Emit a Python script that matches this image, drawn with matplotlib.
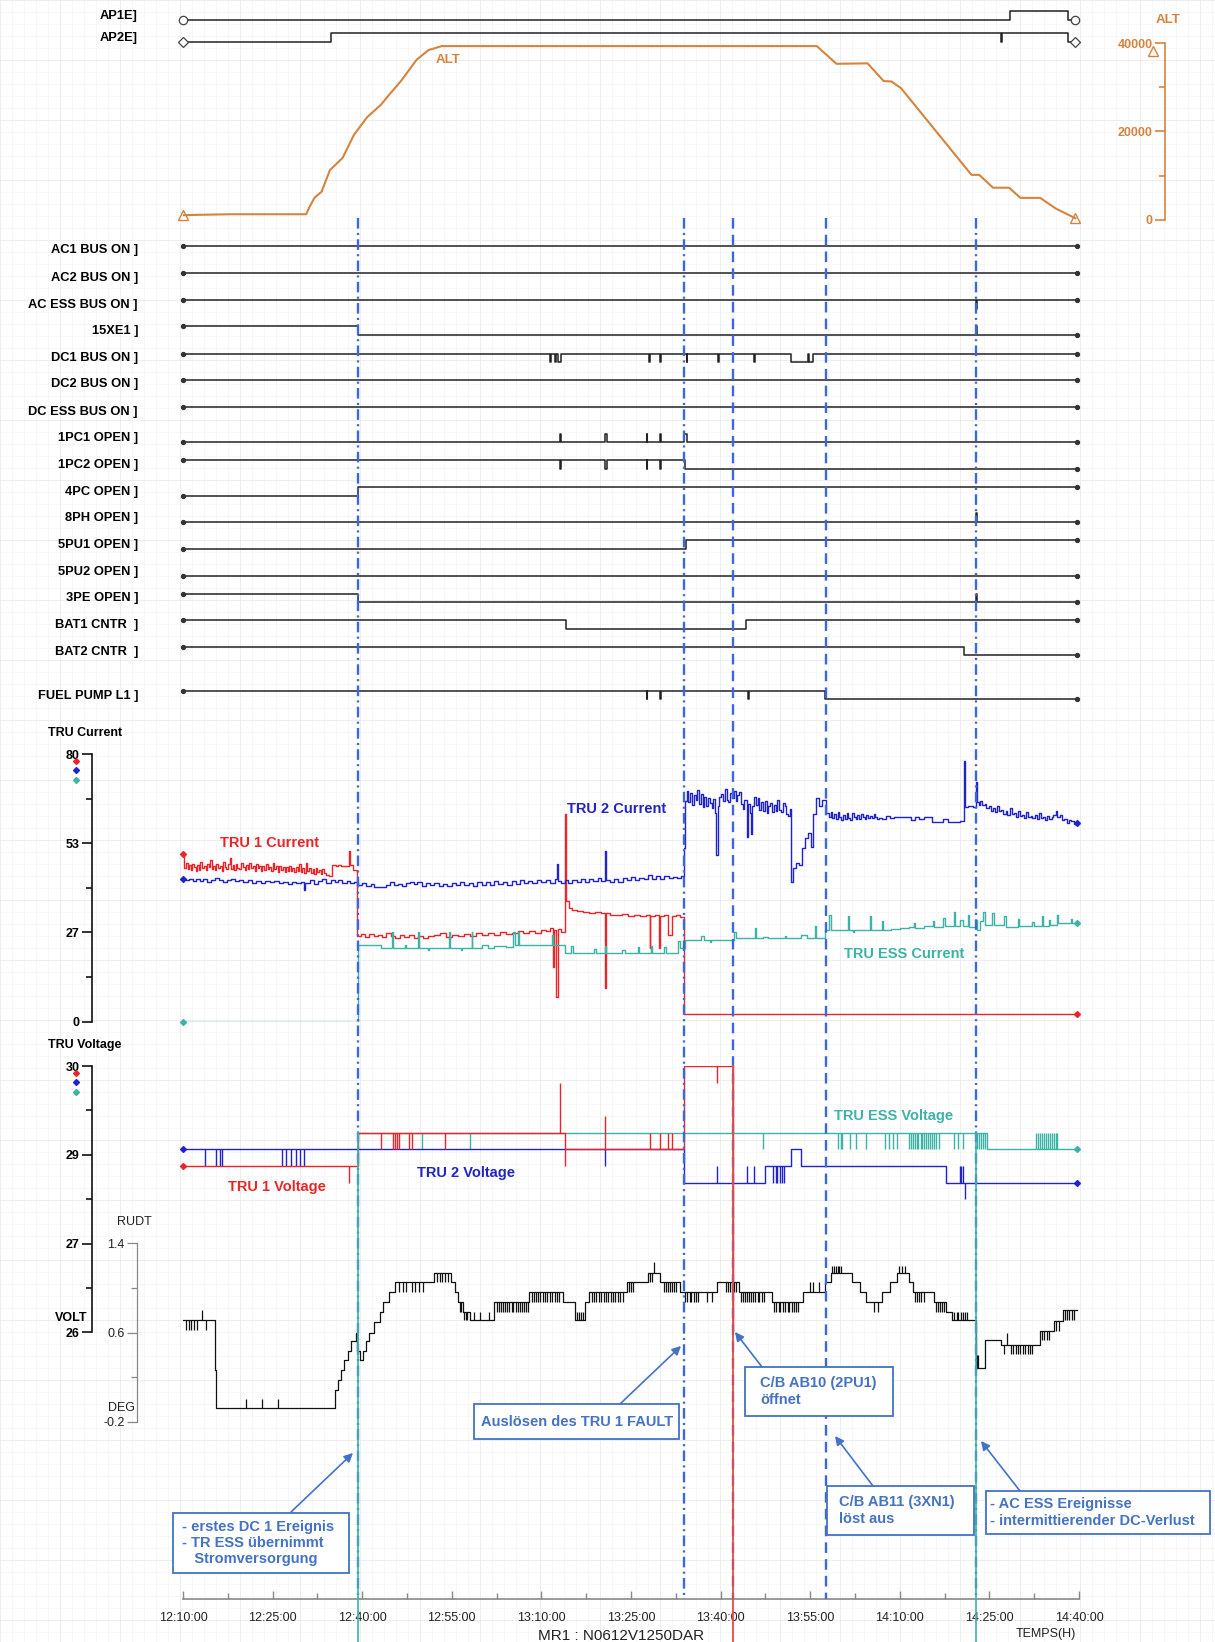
import numpy as np
import matplotlib
matplotlib.use("Agg")
import matplotlib.pyplot as plt
from matplotlib.patches import Rectangle

W, H = 1215, 1642
X0, X1 = 183, 1079          # pixel span of 12:10:00 .. 14:40:00
T_END = 149.7               # minutes after 12:10

plt.rcParams['font.family'] = ['Liberation Sans', 'DejaVu Sans']

RED = '#e8262a'
BLUE = '#2024c8'
TEAL = '#3db3a6'
ORANGE = '#d4843f'
EVT = '#3d68d8'
NOTE = '#4472c4'

# ---------------- data (time = minutes after 12:10:00) ----------------
TIME_TICKS = [0, 15, 30, 45, 60, 75, 90, 105, 120, 135, 150]
TIME_LABELS = ["12:10:00", "12:25:00", "12:40:00", "12:55:00", "13:10:00", "13:25:00",
               "13:40:00", "13:55:00", "14:10:00", "14:25:00", "14:40:00"]

ALT_T = [0, 7.8, 20.6, 21.2, 22.0, 23.2, 24.6, 26.7, 28.6, 30.8, 33.1, 34.7, 36.6, 39.1,
         41.1, 43.3, 106.1, 109.4, 114.6, 117.3, 118.6, 120.2, 132.0, 133.3, 135.6, 138.3,
         140.2, 143.5, 146.1, 149.4]
ALT_V = [1100, 1300, 1300, 3000, 5000, 6400, 11300, 14000, 19200, 23200, 26000, 28600,
         31600, 36200, 38400, 39300, 39300, 35300, 35400, 31400, 31300, 29800, 10200, 10200,
         7300, 7300, 5000, 5000, 2600, 400]

AP1E = [(0, 0), (138.4, 1), (148.2, 0)]
AP2E = [(0, 0), (24.8, 1), (137.0, 0), (137.15, 1), (148.2, 0)]

AC1_BUS = [(0, 1)]
AC2_BUS = [(0, 1)]
AC_ESS_BUS = [(0, 1), (132.7, 0), (132.85, 1)]
XE1_15 = [(0, 1), (29.3, 0), (132.7, 1), (132.85, 0)]
DC1_BUS = [(0, 1), (61.5, 0), (61.65, 1), (62.3, 0), (62.45, 1), (62.8, 0), (63.2, 1),
           (78.0, 0), (78.15, 1), (79.8, 0), (79.95, 1), (84.3, 0), (84.45, 1), (89.5, 0),
           (89.65, 1), (95.6, 0), (95.75, 1), (101.8, 0), (104.55, 1), (104.75, 0), (105.5, 1)]
DC2_BUS = [(0, 1)]
DC_ESS_BUS = [(0, 1)]
PC1_1 = [(0, 0), (63.1, 1), (63.25, 0), (70.7, 1), (70.9, 0), (77.6, 1), (77.75, 0),
         (79.9, 1), (80.05, 0), (83.95, 1), (84.3, 0)]
PC2_1 = [(0, 1), (63.1, 0), (63.25, 1), (70.7, 0), (70.9, 1), (77.6, 0), (77.75, 1),
         (79.9, 0), (80.05, 1), (84.1, 0)]
PC_4 = [(0, 0), (29.3, 1)]
PH_8 = [(0, 0), (132.7, 1), (132.85, 0)]
PU1_5 = [(0, 0), (84.2, 1)]
PU2_5 = [(0, 0)]
PE_3 = [(0, 1), (29.3, 0), (132.7, 1), (132.85, 0)]
BAT1 = [(0, 1), (64.1, 0), (94.3, 1)]
BAT2 = [(0, 1), (130.7, 0)]
FUEL_L1 = [(0, 1), (77.6, 0), (77.75, 1), (79.9, 0), (80.05, 1), (94.6, 0), (94.75, 1), (107.5, 0)]

SIGNAL_LABELS = ["AC1 BUS ON ]", "AC2 BUS ON ]", "AC ESS BUS ON ]", "15XE1 ]", "DC1 BUS ON ]",
                 "DC2 BUS ON ]", "DC ESS BUS ON ]", "1PC1 OPEN ]", "1PC2 OPEN ]", "4PC OPEN ]",
                 "8PH OPEN ]", "5PU1 OPEN ]", "5PU2 OPEN ]", "3PE OPEN ]", "BAT1 CNTR  ]",
                 "BAT2 CNTR  ]", "FUEL PUMP L1 ]"]
SIGNALS = [AC1_BUS, AC2_BUS, AC_ESS_BUS, XE1_15, DC1_BUS, DC2_BUS, DC_ESS_BUS, PC1_1, PC2_1,
           PC_4, PH_8, PU1_5, PU2_5, PE_3, BAT1, BAT2, FUEL_L1]

TRU1_I = [(0, 50), (0.2, 46), (0.5, 47.5), (0.8, 45.6), (1.0, 46.8), (1.3, 45.2), (1.5, 47.1),
          (1.8, 46.2), (2.1, 45), (2.4, 46.9), (2.6, 45.4), (2.9, 47.6), (3.2, 45.8), (3.5, 46.5),
          (3.8, 45.3), (4.1, 47), (4.3, 46.1), (4.5, 48.4), (4.8, 45.7), (5.1, 46.6), (5.4, 45.4),
          (5.6, 47.2), (5.9, 45.9), (6.2, 46.4), (6.5, 45.1), (6.7, 47.6), (7.0, 46.2),
          (7.2, 45.7), (7.5, 47.1), (7.8, 49), (8.0, 45.6), (8.3, 46.9), (8.6, 45.3), (8.9, 47.2),
          (9.1, 46), (9.4, 45.5), (9.7, 47.4), (10.0, 46.1), (10.3, 45.2), (10.6, 46.7),
          (10.9, 45.6), (11.1, 47.3), (11.4, 45.9), (11.7, 46.6), (12.0, 45.1), (12.2, 47),
          (12.5, 45.8), (12.8, 46.4), (13.0, 44.9), (13.3, 46.5), (13.6, 45.4), (13.9, 47.1),
          (14.2, 45.6), (14.4, 46.2), (14.7, 45), (15.0, 47.3), (15.3, 45.7), (15.6, 46.4),
          (15.9, 44.8), (16.1, 46.6), (16.4, 45.2), (16.7, 46.1), (17.0, 44.6), (17.2, 46.3),
          (17.5, 45), (17.8, 46.5), (18.1, 44.9), (18.3, 45.8), (18.6, 44.7), (18.9, 46.2),
          (19.2, 45.1), (19.4, 47), (19.7, 44.8), (20.0, 45.9), (20.3, 44.5), (20.6, 47.4),
          (20.8, 44.9), (21.1, 45.8), (21.4, 44.3), (21.7, 45.6), (22.0, 44.1), (22.2, 46),
          (22.5, 44.6), (22.8, 45.3), (23.1, 44.2), (23.3, 45.7), (23.6, 44.4), (23.9, 43.8),
          (24.4, 43.5), (25.0, 46.8), (25.6, 46.5), (26.0, 46.9), (26.5, 46.6), (27.8, 51),
          (28.0, 46.8), (28.5, 45.4), (29.2, 25.5), (29.8, 26.2), (30.5, 25.3), (31.2, 26.1),
          (31.9, 25.5), (32.6, 25.9), (33.3, 25.2), (34, 26.4), (34.8, 25.6), (35.5, 25),
          (36.3, 25.8), (37, 25.4), (37.8, 26), (38.6, 25.1), (39.4, 25.7), (40.2, 24.9),
          (41, 25.6), (42, 25.8), (43, 26.6), (44, 25.4), (45, 26), (46, 25.5), (47, 26.2),
          (48, 25.7), (49, 26.4), (50, 26), (51, 26.5), (52, 25.9), (53, 26.7), (54, 26.2),
          (55, 26.4), (56, 27), (57, 26.5), (58, 27.2), (59, 26.4), (60, 27.4), (60.8, 27),
          (61.5, 28), (61.9, 16.3), (62.1, 27.5), (62.5, 7.4), (62.7, 27.8), (63.2, 26.8),
          (63.9, 62), (64.05, 36), (64.6, 34), (65.2, 33.5), (66, 33), (67, 32.8), (68, 32.5),
          (69, 32.7), (70, 32.4), (70.7, 10), (70.85, 32.5), (71.5, 32), (72.5, 31.8),
          (73.5, 32.1), (74.5, 31.7), (75.5, 31.9), (76.5, 31.5), (77.5, 31.8), (78.1, 22),
          (78.25, 31.6), (79, 31.9), (79.7, 22), (79.85, 31.5), (80.5, 31.8), (81.2, 26),
          (81.9, 31.6), (82.6, 32), (83.2, 31.4), (83.8, 2.3), (149.6, 2.3)]

TRU2_I = [(0, 42.5), (0.5, 42.2), (1, 42.6), (1.6, 41.9), (2.2, 42.5), (2.8, 42.1), (3.4, 42.7),
          (4, 41.8), (4.7, 42.4), (5.3, 42.9), (6, 42.2), (6.7, 41.6), (7.4, 42.3), (8, 42.6),
          (8.7, 42), (9.4, 42.4), (10, 41.7), (10.8, 42.2), (11.5, 41.5), (12.2, 42), (13, 41.3),
          (13.7, 41.9), (14.5, 41.6), (15.2, 42.1), (16, 41.4), (16.7, 41.8), (17.5, 41.2),
          (18.2, 41.7), (19, 41.3), (19.8, 41.6), (20.3, 39.5), (20.5, 41.4), (21.2, 42.2),
          (21.9, 41.1), (22.6, 41.9), (23.3, 42.6), (24, 41.3), (24.7, 42.4), (25.4, 41.7),
          (26, 42.3), (26.7, 41.5), (27.4, 42), (28, 41.3), (28.7, 41.8), (29.3, 40.8),
          (30, 41.3), (30.7, 40.6), (31.4, 41.1), (32, 40.4), (33, 40.4), (34, 40.9),
          (34.6, 41.6), (35.3, 40.9), (36, 41.2), (36.6, 40.6), (37.3, 41.5), (38, 41.8),
          (38.6, 41.1), (39.2, 41.7), (40, 40.7), (40.7, 41.4), (41.4, 40.8), (42.1, 41.3),
          (42.8, 40.6), (43.5, 41.2), (44.2, 40.7), (45, 41.4), (45.7, 40.8), (46.4, 41.6),
          (47.1, 40.9), (47.8, 41.5), (48.5, 40.7), (49.2, 41.8), (50, 41), (50.7, 41.6),
          (51.4, 40.8), (52.1, 41.9), (52.8, 41.1), (53.5, 41.7), (54.2, 40.9), (55, 42),
          (55.7, 41.2), (56.4, 42.2), (57.1, 41.3), (57.8, 42.1), (58.5, 41.5), (59.2, 42.4),
          (60, 41.6), (60.7, 42.3), (61.4, 41.4), (62.2, 42.6), (62.6, 47), (62.75, 42),
          (63.3, 41.5), (63.9, 42.2), (64.5, 41.5), (65.2, 42.3), (65.9, 41.7), (66.6, 42.5),
          (67.3, 41.6), (68, 42.7), (68.7, 41.9), (69.4, 42.8), (70, 42), (70.7, 51),
          (70.85, 42.4), (71.5, 41.8), (72.2, 42.6), (72.9, 41.7), (73.6, 42.9), (74.3, 42.2),
          (75, 43.2), (75.7, 42.4), (76.4, 43), (77.1, 42.5), (77.8, 43.7), (78.5, 42.6),
          (79.2, 43.4), (79.9, 42.7), (80.6, 43.5), (81.3, 42.9), (82, 43.3), (82.7, 42.8),
          (83.4, 43.4), (83.8, 52), (84.1, 66), (84.3, 68.8), (84.6, 65.8), (84.9, 68.3),
          (85.2, 64.9), (85.5, 67.8), (85.8, 66.2), (86.1, 69.1), (86.4, 65), (86.7, 67.9),
          (87.0, 64.3), (87.3, 67.2), (87.6, 64.6), (87.9, 66.9), (88.2, 65.5), (88.5, 63.8),
          (88.8, 66.6), (89.1, 62.5), (89.3, 49.8), (89.5, 64.5), (89.8, 67.2), (90.1, 68),
          (90.4, 65.9), (90.7, 69.5), (91.0, 66.3), (91.3, 65.7), (91.6, 68.4), (91.9, 66.8),
          (92.2, 68.9), (92.5, 66), (92.8, 67.7), (93.1, 68.5), (93.4, 65.1), (93.7, 63.5),
          (94.0, 66.4), (94.4, 55.3), (94.6, 65), (94.9, 62.4), (95.1, 56), (95.3, 64.5),
          (95.6, 67.1), (95.9, 64.8), (96.2, 66.8), (96.5, 63.2), (96.8, 65.6), (97.1, 62.9),
          (97.4, 65.9), (97.7, 62.5), (98.0, 64.4), (98.3, 65.5), (98.6, 62.7), (98.9, 64.8),
          (99.2, 63), (99.5, 66.2), (99.8, 63.4), (100.1, 62.8), (100.4, 65.3), (100.7, 64.6),
          (101.0, 62.1), (101.3, 61.5), (101.6, 63.7), (101.8, 41.8), (102.1, 46),
          (102.6, 47.5), (103.2, 46.8), (103.6, 52), (104.1, 55), (104.6, 56.5), (105.1, 52.3),
          (105.4, 62), (105.9, 67), (106.5, 64.5), (107, 66.3), (107.6, 62.5), (108.1, 61.3),
          (108.4, 62.6), (108.7, 60.9), (109.0, 62.2), (109.3, 60.5), (109.6, 62.7),
          (109.9, 61.2), (110.2, 60.4), (110.5, 61.9), (110.8, 60.7), (111.1, 62.3),
          (111.4, 61), (111.7, 60.4), (112.0, 62.5), (112.3, 61.2), (112.6, 60.6), (112.9, 61.8),
          (113.2, 60.5), (113.5, 62), (113.8, 61.3), (114.1, 60.6), (114.4, 61.9), (114.7, 60.8),
          (115.0, 61.6), (115.3, 60.9), (115.6, 62.1), (115.9, 61.1), (116.2, 60.5), (116.5, 61),
          (117.1, 60.7), (117.7, 61.4), (118.3, 61), (119, 61.2), (120, 61.3), (121, 61.1),
          (121.8, 60.3), (122.5, 61.1), (123.2, 60.6), (124, 61.2), (125.4, 59.8),
          (126.5, 59.6), (127.3, 60.5), (128, 59.8), (129, 59.7), (130, 59.9), (130.7, 78),
          (130.85, 64.3), (131.5, 64.5), (132.2, 64.1), (132.7, 71.7), (132.85, 65.7),
          (133.2, 64.8), (133.5, 66.1), (133.8, 64.9), (134.2, 65.2), (134.5, 63.9),
          (134.9, 64.6), (135.2, 63.1), (135.6, 63.8), (135.9, 62.6), (136.3, 64.5), (136.6, 63),
          (137, 63.2), (137.3, 62.1), (137.7, 62.9), (138.0, 61.8), (138.4, 63.8), (138.7, 62.2),
          (139.1, 62.5), (139.4, 61.3), (139.8, 62.9), (140.1, 61.6), (140.5, 61.9),
          (140.8, 60.9), (141.2, 62.6), (141.5, 61.2), (141.9, 61.5), (142.2, 60.8),
          (142.6, 61.7), (142.9, 60.7), (143.3, 62.4), (143.6, 60.9), (144, 61.1), (144.3, 60.4),
          (144.7, 61.6), (145.0, 60.6), (145.4, 61.3), (145.7, 61.9), (146.1, 62.9),
          (146.4, 61.2), (146.8, 61.8), (147.1, 60.2), (147.5, 60.5), (148, 59.3), (148.3, 60.4),
          (148.6, 59.9), (149.1, 59.2), (149.6, 59.4)]

ESS_I = [(0, 0), (29.3, 22.9), (33.2, 22.1), (35, 26.9), (35.15, 22.1), (37.2, 22.9),
         (37.4, 22.1), (39.4, 26.9), (39.55, 22.1), (41, 21.3), (41.2, 22.1), (44.5, 26.9),
         (44.65, 22.1), (46.5, 21.3), (46.7, 22.1), (48.3, 26.9), (48.45, 22.1), (50, 22.9),
         (51, 22.1), (52, 22.6), (54, 22.2), (55.3, 26.9), (55.5, 22.9), (56, 26.9), (56.2, 22.9),
         (61.8, 26), (62, 22.9), (63.9, 20.4), (65, 22.5), (65.3, 20.4), (68.8, 21.8),
         (69.1, 20.4), (70.6, 22.5), (70.8, 20.4), (73.5, 21.3), (74, 20.4), (76.2, 22.3),
         (76.4, 20.4), (78.3, 22.5), (78.5, 20.6), (80.5, 22.3), (80.8, 20.6), (82.8, 24),
         (83.2, 22), (84, 24.4), (86.7, 25.5), (87.3, 24.4), (88.2, 23.8), (88.4, 24.4),
         (92.3, 26.9), (92.5, 25), (95.7, 27.9), (95.9, 25), (97.1, 25.3), (98, 25),
         (100.7, 25.5), (101, 25), (103.5, 25.8), (104.5, 25), (105.8, 28.5), (106, 25),
         (107.4, 27.4), (108.2, 32), (108.4, 27.4), (111.3, 31.7), (111.5, 27.4), (112.2, 26.7),
         (112.4, 27.4), (115, 31.5), (115.2, 27.4), (117, 30), (117.2, 27.4), (118.5, 27.6),
         (120, 27.9), (121.5, 28.2), (122.3, 29.5), (122.5, 27.9), (124, 28.6), (125.5, 30),
         (125.8, 28.2), (127.3, 31), (127.6, 28.5), (129, 32.9), (129.2, 28.6), (130, 30.5),
         (130.5, 28.6), (131.4, 32), (131.6, 28.4), (132.7, 30.5), (133, 27.3), (133.5, 30.2),
         (134, 32.9), (134.3, 29), (135.5, 32.6), (135.8, 28.8), (137.5, 31.6), (137.8, 28.4),
         (139.8, 30.7), (140, 28.5), (142.2, 29.8), (142.5, 28.5), (143.8, 31.6), (144, 28.6),
         (145, 30.4), (145.2, 28.8), (146.3, 31.8), (146.5, 29.6), (148.6, 30.8), (148.8, 29.4),
         (149.6, 29.4)]

# voltages: step levels plus short spikes (time, spike value)
TRU1_V = [(0, 28.5), (29.3, 29.0), (63.9, 28.75), (83.8, 30.0), (92.1, 25.0)]
TRU1_V_SPIKES = [(27.8, 28.25), (33.2, 28.75), (35.1, 28.75), (35.5, 28.75), (35.9, 28.75),
                 (36.1, 28.75), (37.8, 28.75), (38.3, 28.75), (43.8, 28.75), (63.1, 29.75),
                 (64.0, 28.5), (70.7, 29.25), (78.1, 29.0), (79.8, 29.0), (81.2, 29.0),
                 (81.9, 29.0), (89.4, 29.75)]
TRU2_V = [(0, 28.75), (83.8, 28.25), (97.4, 28.5), (101.8, 28.75), (103.5, 28.5),
          (127.8, 28.25), (149.6, 28.25)]
TRU2_V_SPIKES = [(3.6, 28.5), (5.6, 28.5), (6.2, 28.5), (6.6, 28.5), (16.5, 28.5), (17.2, 28.5),
                 (18.0, 28.5), (18.9, 28.5), (19.6, 28.5), (20.3, 28.5), (70.7, 28.5),
                 (89.4, 28.5), (94.5, 28.5), (95.6, 28.5), (98.8, 28.25), (99.2, 28.25),
                 (99.5, 28.25), (99.9, 28.25), (100.2, 28.25), (100.6, 28.25), (130.0, 28.5),
                 (130.3, 28.5), (130.6, 28.5), (130.9, 28.0)]
ESS_V = [(29.3, 29.0), (134.6, 28.75), (149.6, 28.75)]
ESS_V_SPIKES = [(40.0, 28.75), (48.1, 28.75), (97.1, 28.75), (109.7, 28.75), (110.1, 28.75),
                (110.4, 28.75), (111.7, 28.75), (112.7, 28.75), (114.3, 28.75), (117.6, 28.75),
                (118.2, 28.75), (118.9, 28.75), (119.6, 28.75), (121.5, 28.75), (121.8, 28.75),
                (122.2, 28.75), (122.5, 28.75), (122.8, 28.75), (123.1, 28.75), (123.5, 28.75),
                (123.8, 28.75), (124.1, 28.75), (124.4, 28.75), (124.8, 28.75), (125.1, 28.75),
                (125.4, 28.75), (125.7, 28.75), (126.1, 28.75), (126.5, 28.75), (129.1, 28.75),
                (129.7, 28.75), (130.6, 28.75), (133.0, 28.75), (133.3, 28.75), (133.6, 28.75),
                (134.0, 28.75), (134.3, 28.75), (142.8, 29.0), (143.2, 29.0), (143.5, 29.0),
                (143.8, 29.0), (144.1, 29.0), (144.5, 29.0), (144.8, 29.0), (145.1, 29.0),
                (145.4, 29.0), (145.8, 29.0), (146.1, 29.0), (146.4, 29.0)]

RUDT = [(0, 0.71), (5.4, 0.26), (5.6, -0.08), (25.5, 0.08), (25.9, 0.17), (26.4, 0.26),
        (26.9, 0.35), (27.6, 0.43), (28.2, 0.52), (28.9, 0.6), (29.2, 0.43), (29.6, 0.35),
        (30.1, 0.43), (30.6, 0.52), (31.2, 0.6), (31.9, 0.69), (32.9, 0.78), (33.5, 0.87),
        (34.5, 0.96), (35.5, 1.05), (42.1, 1.13), (44.8, 1.05), (45.5, 0.96), (46.1, 0.87),
        (46.8, 0.78), (48.1, 0.71), (52.1, 0.87), (58.0, 0.96), (63.6, 0.87), (65.6, 0.71),
        (67.3, 0.87), (68.0, 0.96), (74.3, 1.05), (77.9, 1.13), (79.9, 1.05), (83.2, 0.96),
        (89.4, 1.05), (93.0, 0.96), (98.6, 0.87), (103.8, 0.96), (107.4, 1.05), (108.4, 1.13),
        (112.0, 1.05), (113.3, 0.96), (114.3, 0.87), (117.0, 0.96), (118.3, 1.05),
        (119.6, 1.13), (121.5, 1.05), (122.2, 0.96), (125.7, 0.87), (127.8, 0.78),
        (128.8, 0.71), (132.7, 0.28), (134.3, 0.53), (137.0, 0.49), (143.5, 0.61),
        (145.8, 0.7), (147.4, 0.8), (149.6, 0.8)]
RUDT_SPIKES = [(0.5, 0.62), (1.0, 0.62), (1.4, 0.62), (1.8, 0.62), (2.3, 0.62), (3.2, 0.8),
               (3.9, 0.62), (10.6, 0.0), (13.3, 0.0), (15.9, 0.0),
               (36.1, 0.96), (36.8, 0.96), (37.4, 0.96), (38.4, 0.96), (38.8, 0.96), (39.5, 0.96),
               (40.1, 0.96), (42.6, 1.05), (43.0, 1.05), (43.4, 1.05), (43.9, 1.05), (44.3, 1.05),
               (46.3, 0.78), (46.6, 0.78), (47.0, 0.71), (47.3, 0.71), (47.6, 0.71),
               (48.8, 0.78), (49.8, 0.78), (51.3, 0.78),
               (52.5, 0.78), (52.9, 0.78), (53.2, 0.78), (53.6, 0.78), (53.9, 0.78), (54.3, 0.78),
               (54.6, 0.78), (55.0, 0.78), (55.3, 0.78), (55.7, 0.78), (56.0, 0.78), (56.4, 0.78),
               (56.7, 0.78), (57.1, 0.78), (57.4, 0.78), (57.8, 0.78),
               (58.4, 0.87), (58.8, 0.87), (59.1, 0.87), (59.5, 0.87), (59.8, 0.87), (60.2, 0.87),
               (60.6, 0.87), (61.0, 0.87), (61.4, 0.87), (61.8, 0.87), (62.2, 0.87), (62.6, 0.87),
               (63.0, 0.87), (65.9, 0.78), (66.3, 0.78), (66.7, 0.78), (67.0, 0.78),
               (68.4, 0.87), (68.8, 0.87), (69.2, 0.87), (69.6, 0.87), (70.0, 0.87), (70.4, 0.87),
               (70.8, 0.87), (71.2, 0.87), (71.6, 0.87), (72.0, 0.87), (72.4, 0.87), (72.8, 0.87),
               (73.2, 0.87), (73.6, 0.87), (74.6, 0.96), (75.0, 0.96), (75.3, 0.96),
               (78.2, 1.05), (78.5, 1.05), (78.9, 1.23),
               (80.5, 0.96), (80.8, 0.96), (81.2, 0.96), (81.5, 0.96), (81.9, 0.96), (82.2, 0.96),
               (82.6, 0.96), (84.1, 0.87), (84.4, 0.87), (84.8, 0.87), (85.1, 0.87), (85.5, 0.87),
               (85.8, 0.87), (86.2, 0.87), (87.8, 0.87), (88.6, 0.87),
               (90.9, 0.96), (91.2, 0.96), (91.6, 0.96), (91.9, 0.96), (92.3, 0.96), (92.6, 0.96),
               (93.4, 0.87), (93.7, 0.87), (94.1, 0.87), (94.4, 0.87), (94.8, 0.87), (95.1, 0.87),
               (95.5, 0.87), (95.8, 0.87), (96.2, 0.87), (96.5, 0.87), (96.9, 0.87), (97.2, 0.87),
               (99.0, 0.78), (99.3, 0.78), (99.7, 0.78), (100.0, 0.78), (100.4, 0.78),
               (100.8, 0.78), (101.2, 0.78), (101.5, 0.78), (101.9, 0.78), (102.3, 0.78),
               (102.7, 0.78), (103.0, 0.78), (104.9, 1.05), (105.4, 1.05), (106.5, 1.05),
               (108.7, 1.2), (109.0, 1.2), (109.3, 1.2), (109.6, 1.2), (109.9, 1.2), (110.2, 1.2),
               (115.6, 0.78), (116.4, 0.78), (119.9, 1.2), (120.4, 1.2), (120.9, 1.2),
               (122.5, 0.87), (122.9, 0.87), (123.2, 0.87), (123.6, 0.87), (124.0, 0.87),
               (126.0, 0.78), (126.4, 0.78), (126.7, 0.78), (127.1, 0.78), (127.4, 0.78),
               (129.1, 0.78), (129.5, 0.78), (129.8, 0.78), (130.2, 0.78), (130.5, 0.78),
               (130.9, 0.78), (131.2, 0.78), (132.9, 0.4), (133.1, 0.4),
               (137.5, 0.41), (138.0, 0.6), (138.6, 0.41), (139.0, 0.41), (139.4, 0.41),
               (139.8, 0.41), (140.2, 0.41), (140.6, 0.41), (141.0, 0.41), (141.4, 0.41),
               (141.8, 0.41), (142.2, 0.41), (143.8, 0.53), (144.2, 0.53), (144.6, 0.53),
               (145.0, 0.53), (146.2, 0.61), (146.6, 0.61), (147.7, 0.71), (148.0, 0.71),
               (148.4, 0.71), (148.8, 0.71), (149.2, 0.71)]

EVENT_T = [29.25, 83.9, 92.1, 107.6, 132.8]
DASHDOT = (0, (4.5, 1.8, 0.9, 1.8))
DASHED = (0, (4.5, 2.6))
EVENT_LS = [DASHDOT, DASHDOT, DASHED, DASHED, DASHDOT]

# ---------------- layout helpers ----------------
fig = plt.figure(figsize=(W / 100, H / 100), dpi=100)


def px_axes(x0, y0, x1, y1):
    ax = fig.add_axes([x0 / W, 1 - y1 / H, (x1 - x0) / W, (y1 - y0) / H])
    ax.patch.set_visible(False)
    for s in ax.spines.values():
        s.set_visible(False)
    ax.set_xticks([])
    ax.set_yticks([])
    ax.set_xlim(0, 150)
    return ax


def split(pts, end=None):
    t = np.array([p[0] for p in pts], float)
    v = np.array([p[1] for p in pts], float)
    if end is not None:
        t = np.append(t, end)
        v = np.append(v, v[-1])
    return t, v


def level_at(pts, t):
    tt, vv = split(pts)
    return vv[np.searchsorted(tt, t, side='right') - 1]


def left_axis(ax, xpix, color, lw, major, labels, minor, bold=True):
    sp = ax.spines['left']
    sp.set_visible(True)
    sp.set_position(('axes', (xpix - X0) / (X1 - X0)))
    sp.set_color(color)
    sp.set_linewidth(lw)
    ax.set_yticks(major)
    ax.set_yticklabels(labels, fontsize=9, fontweight='bold' if bold else 'normal')
    ax.set_yticks(minor, minor=True)
    ax.tick_params(axis='y', which='major', length=7, width=lw, color=color, pad=2)
    ax.tick_params(axis='y', which='minor', length=4, width=lw, color=color)


# background graph paper
bg = fig.add_axes([0, 0, 1, 1])
bg.set_zorder(-5)
bg.set_xlim(0, W)
bg.set_ylim(H, 0)
bg.axis('off')
bg.vlines(np.arange(0, W, 12), 0, H, color='#f6f6f6', lw=0.6)
bg.hlines(np.arange(0, H, 12), 0, W, color='#f6f6f6', lw=0.6)
bg.vlines(np.arange(0, W, 60), 0, H, color='#ededed', lw=0.7)
bg.hlines(np.arange(0, H, 60), 0, W, color='#ededed', lw=0.7)

ov = fig.add_axes([0, 0, 1, 1])
ov.set_zorder(10)
ov.set_xlim(0, W)
ov.set_ylim(H, 0)
ov.axis('off')

# ---------------- discrete signals ----------------
tax = px_axes(X0, 0, X1, H)
tax.set_ylim(H, 0)

ap_rows = [("AP1E]", 15.5, AP1E, 'o'), ("AP2E]", 37.5, AP2E, 'D')]
for label, yc, pts, mk in ap_rows:
    t, s = split(pts, 149.4)
    y = yc + 4.3 - 9 * s
    tax.plot(t, y, drawstyle='steps-post', color='#222222', lw=1.1)
    tax.plot([0, 149.4], [y[0], y[-1]], mk, ms=6 if mk == 'o' else 5, mfc='white',
             mec='#444444', mew=0.9, clip_on=False)
    ov.text(138, yc + 1, label, ha='right', va='center', fontsize=9.3, fontweight='bold')

ROW_Y = [250.5, 278, 305, 331, 358.5, 384.5, 411.5, 438.5, 465, 492, 518, 545, 572,
         598.5, 625, 651.5, 695.5]
for label, yc, pts in zip(SIGNAL_LABELS, ROW_Y, SIGNALS):
    t, s = split(pts, T_END)
    y = yc + 4 - 8.5 * s
    tax.plot(t, y, drawstyle='steps-post', color='#222222', lw=1.1)
    tax.plot([0, T_END], [y[0], y[-1]], 'o', ms=2.8, color='#333333', clip_on=False)
    ov.text(138, yc, label, ha='right', va='center', fontsize=9.3, fontweight='bold')

# ---------------- altitude ----------------
aax = px_axes(X0, 43, X1, 220)
aax.set_ylim(0, 40000)
aax.plot(ALT_T, ALT_V, color=ORANGE, lw=1.5)
aax.plot([ALT_T[0], ALT_T[-1]], [ALT_V[0], ALT_V[-1]], '^', ms=7, mfc='none', mec=ORANGE,
         mew=1, clip_on=False)
left_axis(aax, 1165, ORANGE, 1.2, [0, 20000, 40000], ['0', '20000', '40000'], [10000, 30000])
for lbl in aax.get_yticklabels():
    lbl.set_color(ORANGE)
ov.plot(1153, 51, '^', ms=7, mfc='none', mec=ORANGE, mew=1)
ov.text(1168, 20, "ALT", color=ORANGE, fontsize=9.5, fontweight='bold', ha='center', va='center')
ov.text(448, 60, "ALT", color=ORANGE, fontsize=9.5, fontweight='bold', ha='center', va='center')

# ---------------- TRU current ----------------
cax = px_axes(X0, 754, X1, 1021.7)
cax.set_ylim(0, 80)
for pts, col in [(TRU1_I, RED), (ESS_I, TEAL), (TRU2_I, BLUE)]:
    t, v = split(pts)
    cax.plot(t, v, drawstyle='steps-post', color=col, lw=1.0)
    cax.plot([t[0], t[-1]], [v[0], v[-1]], 'D', ms=3, color=col, clip_on=False)
left_axis(cax, 92, '#111111', 1.2, [0, 80 / 3, 160 / 3, 80], ['0', '27', '53', '80'],
          [40 / 3, 40, 200 / 3])
ov.text(85, 733, "TRU Current", fontsize=9, fontweight='bold', ha='center', va='center')
for yy, col in [(760.7, RED), (770.3, BLUE), (780.3, TEAL)]:
    ov.plot(76, yy, 'D', ms=3, color=col)
ov.text(269, 843, "TRU 1 Current", color=RED, fontsize=10.5, fontweight='bold',
        ha='center', va='center')
ov.text(567, 809, "TRU 2 Current", color=BLUE, fontsize=10.5, fontweight='bold',
        ha='left', va='center')
ov.text(904, 954, "TRU ESS Current", color=TEAL, fontsize=10.5, fontweight='bold',
        ha='center', va='center')

# ---------------- TRU voltage ----------------
vax = px_axes(X0, 1066, X1, 1332.3)
vax.set_ylim(26, 30)
for pts, spikes, col in [(ESS_V, ESS_V_SPIKES, TEAL), (TRU2_V, TRU2_V_SPIKES, BLUE),
                         (TRU1_V, TRU1_V_SPIKES, RED)]:
    t, v = split(pts)
    vax.plot(t, v, drawstyle='steps-post', color=col, lw=1.0)
    st = [p[0] for p in spikes]
    vax.vlines(st, [level_at(pts, x) for x in st], [p[1] for p in spikes], color=col, lw=1.0)
vax.plot([0], [TRU2_V[0][1]], 'D', ms=3, color=BLUE, clip_on=False)
vax.plot([0], [TRU1_V[0][1]], 'D', ms=3, color=RED, clip_on=False)
vax.plot([ESS_V[-1][0]], [ESS_V[-1][1]], 'D', ms=3, color=TEAL, clip_on=False)
vax.plot([TRU2_V[-1][0]], [TRU2_V[-1][1]], 'D', ms=3, color=BLUE, clip_on=False)
left_axis(vax, 92, '#111111', 1.2, [26, 26 + 4 / 3, 26 + 8 / 3, 30], ['26', '27', '29', '30'],
          [26 + 2 / 3, 28, 26 + 10 / 3])
ov.text(85, 1045, "TRU Voltage", fontsize=9, fontweight='bold', ha='center', va='center')
ov.text(71, 1318, "VOLT", fontsize=9, fontweight='bold', ha='center', va='center')
for yy, col in [(1072.7, RED), (1082.3, BLUE), (1092.3, TEAL)]:
    ov.plot(76, yy, 'D', ms=3, color=col)
ov.text(277, 1187, "TRU 1 Voltage", color=RED, fontsize=10.5, fontweight='bold',
        ha='center', va='center')
ov.text(466, 1173, "TRU 2 Voltage", color=BLUE, fontsize=10.5, fontweight='bold',
        ha='center', va='center')
ov.text(894, 1116, "TRU ESS Voltage", color=TEAL, fontsize=10.5, fontweight='bold',
        ha='center', va='center')

# ---------------- rudder trim ----------------
rax = px_axes(X0, 1243.3, X1, 1421.7)
rax.set_ylim(-0.2, 1.4)
t, v = split(RUDT)
rax.plot(t, v, drawstyle='steps-post', color='#111111', lw=0.9)
st = [p[0] for p in RUDT_SPIKES]
rax.vlines(st, [level_at(RUDT, x) for x in st], [p[1] for p in RUDT_SPIKES],
           color='#111111', lw=0.9)
left_axis(rax, 137, '#888888', 0.9, [-0.2, 0.6, 1.4], ['-0.2', '0.6', '1.4'], [0.2, 1.0],
          bold=False)
for lbl in rax.get_yticklabels():
    lbl.set_color('#222222')
ov.text(134, 1222, "RUDT", fontsize=9, ha='center', va='center', color='#222222')
ov.text(121, 1408, "DEG", fontsize=9, ha='center', va='center', color='#222222')

# ---------------- time axis ----------------
xax = px_axes(X0, 1590, X1, 1599)
xax.spines['bottom'].set_visible(True)
xax.spines['bottom'].set_color('#888888')
xax.spines['bottom'].set_linewidth(1.2)
xax.set_xticks(TIME_TICKS)
xax.set_xticklabels(TIME_LABELS, fontsize=9, color='#222222')
xax.set_xticks(np.arange(7.5, 150, 15), minor=True)
xax.tick_params(axis='x', which='major', direction='in', length=6, width=1, color='#888888',
                pad=9)
xax.tick_params(axis='x', which='minor', direction='in', length=4, width=1, color='#888888')
ov.text(621, 1636, "MR1 : N0612V1250DAR", fontsize=11, ha='center', va='center', color='#222222')
ov.text(1046, 1634, "TEMPS(H)", fontsize=9, ha='center', va='center', color='#222222')

# ---------------- event markers ----------------
eax = px_axes(X0, 0, X1, H)
eax.set_ylim(H, 0)
for te, ls in zip(EVENT_T, EVENT_LS):
    eax.plot([te, te], [218, 1599], color=EVT, lw=1.7, ls=ls)
eax.plot([EVENT_T[0], EVENT_T[0]], [1132, H], color=TEAL, lw=1.2)
eax.plot([EVENT_T[4], EVENT_T[4]], [1132, H], color=TEAL, lw=1.2)
eax.plot([EVENT_T[2], EVENT_T[2]], [1066, H], color='#e84a4a', lw=1.3)

# ---------------- annotations ----------------
notes = [
    ((173, 1513, 349, 1573), 182, "- erstes DC 1 Ereignis\n- TR ESS übernimmt\n   Stromversorgung",
     (291, 1512), (353, 1453)),
    ((474, 1404, 679, 1439), 481, "Auslösen des TRU 1 FAULT", (620, 1404), (681, 1346)),
    ((745, 1367, 893, 1416), 760, "C/B AB10 (2PU1)\nöffnet", (762, 1367), (735, 1332)),
    ((827, 1486, 974, 1535), 839, "C/B AB11 (3XN1)\nlöst aus", (873, 1486), (835, 1436)),
    ((986, 1491, 1210, 1534), 990, "- AC ESS Ereignisse\n- intermittierender DC-Verlust",
     (1020, 1491), (981, 1441)),
]
for (x0, y0, x1, y1), tx, txt, a0, a1 in notes:
    ov.add_patch(Rectangle((x0, y0), x1 - x0, y1 - y0, fc='white', ec=NOTE, lw=1.3, zorder=5))
    ov.text(tx, (y0 + y1) / 2, txt, color=NOTE, fontsize=10.5, fontweight='bold',
            ha='left', va='center', linespacing=1.2, zorder=6)
    ov.annotate("", xy=a1, xytext=a0,
                arrowprops=dict(arrowstyle='-|>', color=NOTE, lw=1.2, mutation_scale=13,
                                shrinkA=0, shrinkB=0), zorder=6)

fig.savefig("out.png", dpi=100)
